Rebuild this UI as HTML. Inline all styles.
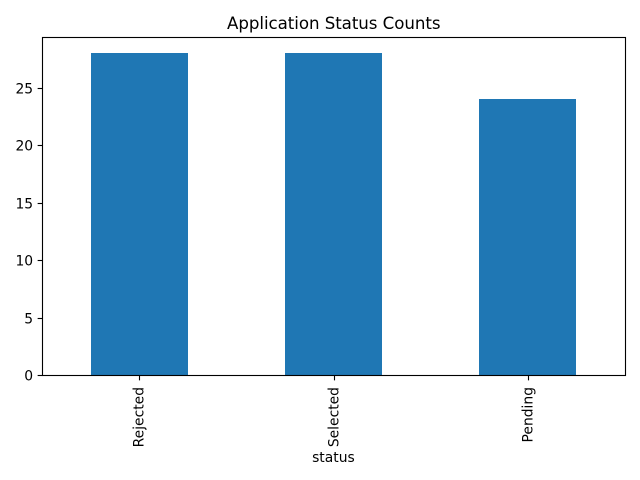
<!DOCTYPE html>
<html>
<head>
<meta charset="utf-8">
<title>Application Status Counts</title>
<style>
html,body{margin:0;padding:0;background:#fff;width:640px;height:480px;overflow:hidden}
svg{display:block}
text{font-family:"DejaVu Sans",sans-serif;fill:#000}
</style>
</head>
<body>
<svg id="chart" xmlns="http://www.w3.org/2000/svg" width="640" height="480" viewBox="0 0 640 480">
<rect x="0" y="0" width="640" height="480" fill="#fff"/>
<text x="227" y="29" font-size="16.67" textLength="213.5" lengthAdjust="spacing">Application Status Counts</text>
<text x="333.4" y="462" font-size="13.89" text-anchor="middle">status</text>
<g id="bars" shape-rendering="crispEdges"></g>
<g id="ticks"></g>
<rect x="42.5" y="37.5" width="583" height="338" fill="none" stroke="#000" stroke-width="1.11"/>
</svg>
<script>
const categories = ['Rejected', 'Selected', 'Pending'];
const counts = [28, 28, 24];
const yTickValues = [0, 5, 10, 15, 20, 25];

const plotLeft = 42.5, plotRight = 625.5, plotTop = 37.5, plotBottom = 375.5;
const barWidthUnits = 0.5;
const yMax = Math.max(...counts) * 1.05;
const svgNs = 'http://www.w3.org/2000/svg';

function xScale(i) {
  return plotLeft + (i + 0.5) / categories.length * (plotRight - plotLeft);
}
function yScale(v) {
  return plotBottom - v / yMax * (plotBottom - plotTop);
}
function snap(p) {
  return Math.floor(p + 0.001);
}
function make(tag, attrs, parent) {
  const el = document.createElementNS(svgNs, tag);
  for (const k in attrs) el.setAttribute(k, attrs[k]);
  parent.appendChild(el);
  return el;
}

const barsGroup = document.getElementById('bars');
const ticksGroup = document.getElementById('ticks');
const unit = (plotRight - plotLeft) / categories.length;

counts.forEach(function (value, i) {
  const left = snap(xScale(i) - unit * barWidthUnits / 2);
  const right = snap(xScale(i) + unit * barWidthUnits / 2);
  const top = snap(yScale(value));
  const bottom = snap(plotBottom);
  const bar = make('rect', {
    x: left,
    y: top,
    width: right - left,
    height: bottom - top,
    fill: '#1f77b4'
  }, barsGroup);
  
  
});

categories.forEach(function (label, i) {
  const x = snap(xScale(i)) + 0.5;
  const tick = make('line', {
    x1: x, x2: x, y1: plotBottom, y2: plotBottom + 4.86,
    stroke: '#000', 'stroke-width': 1.11
  }, ticksGroup);
  
  

  const text = make('text', {
    'font-size': 13.89,
    'text-anchor': 'end',
    transform: 'translate(' + (x + 4.2) + ',387) rotate(-90)'
  }, ticksGroup);
  text.textContent = label;
  
  
});

yTickValues.forEach(function (value) {
  const y = snap(yScale(value)) + 0.5;
  const tick = make('line', {
    x1: plotLeft - 4.86, x2: plotLeft, y1: y, y2: y,
    stroke: '#000', 'stroke-width': 1.11
  }, ticksGroup);
  
  

  const text = make('text', {
    x: plotLeft - 9.4,
    y: y + 5.05,
    'font-size': 13.89,
    'text-anchor': 'end'
  }, ticksGroup);
  text.textContent = String(value);
  
  
});
</script>
</body>
</html>
